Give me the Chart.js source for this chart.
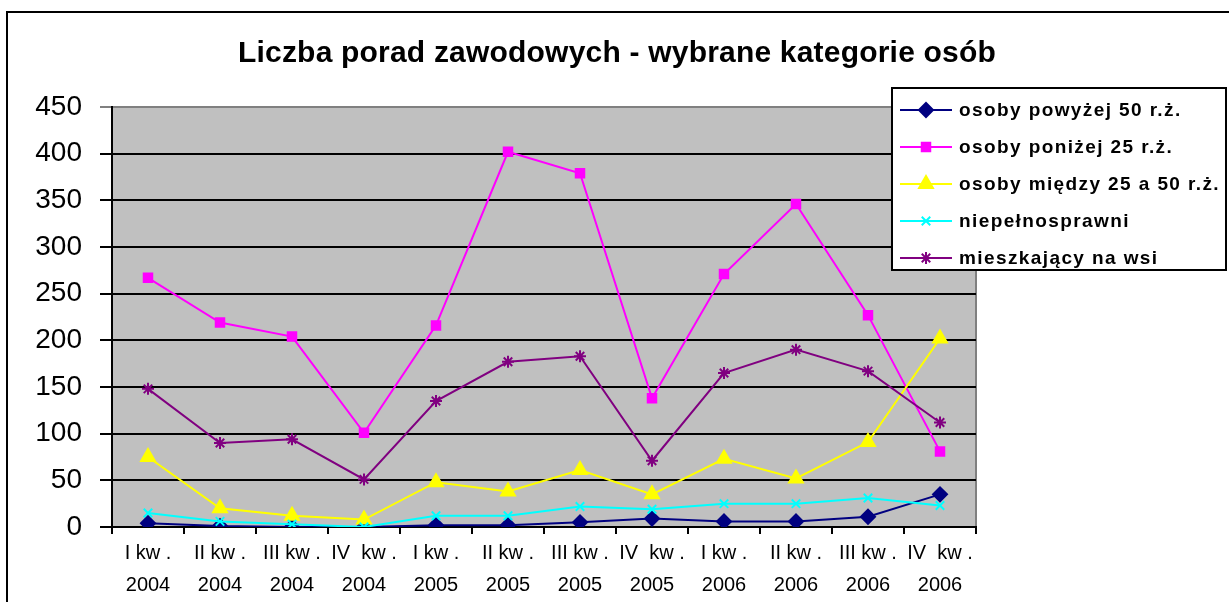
<html lang="pl">
<head>
  <meta charset="utf-8">
  <title>Liczba porad zawodowych</title>
  <style>
    html, body { margin: 0; padding: 0; background: #fff; }
    #wrap { width: 1229px; height: 602px; position: relative; }
  </style>
</head>
<body>
  <div id="wrap">
    <canvas id="myChart"></canvas>
  </div>
  <script src="https://cdn.jsdelivr.net/npm/chart.js"></script>
  <script>
    const title = 'Liczba porad zawodowych - wybrane kategorie osób'
    const quarters = ['I kw .', 'II kw .', 'III kw .', 'IV  kw .', 'I kw .', 'II kw .', 'III kw .', 'IV  kw .', 'I kw .', 'II kw .', 'III kw .', 'IV  kw .']
    const years = ['2004', '2004', '2004', '2004', '2005', '2005', '2005', '2005', '2006', '2006', '2006', '2006']

    const seriesNames = ['osoby powyżej 50 r.ż.', 'osoby poniżej 25 r.ż.', 'osoby między 25 a 50 r.ż.', 'niepełnosprawni', 'mieszkający na wsi']
    const powyzej50 = [4, 1, 0, 0, 2, 2, 5, 9, 6, 6, 11, 35]
    const ponizej25 = [267, 219, 204, 101, 216, 402, 379, 138, 271, 346, 227, 81]
    const miedzy25a50 = [75, 20, 12, 8, 48, 38, 61, 35, 73, 52, 91, 202]
    const niepelnosprawni = [15, 6, 3, 0, 12, 12, 22, 19, 25, 25, 31, 23]
    const naWsi = [148, 90, 94, 51, 135, 177, 183, 71, 165, 190, 167, 112]

    const yTicks = [0, 50, 100, 150, 200, 250, 300, 350, 400, 450]

    const labels = quarters.map((q, i) => [q, years[i]])

    function series(name, data, color, style, radius, order) {
      return {
        label: name,
        data: data,
        borderColor: color,
        backgroundColor: color,
        pointBackgroundColor: color,
        pointBorderColor: color,
        pointStyle: style,
        pointRadius: radius,
        pointBorderWidth: 2,
        borderWidth: 2,
        tension: 0,
        order: order
      }
    }

    // plot background, outer frame and title
    const frame = {
      id: 'frame',
      beforeDraw(chart) {
        const { ctx, chartArea: a } = chart
        ctx.save()
        ctx.fillStyle = '#c0c0c0'
        ctx.fillRect(a.left, a.top, a.right - a.left, a.bottom - a.top)
        ctx.strokeStyle = '#808080'
        ctx.lineWidth = 2
        ctx.beginPath()
        ctx.moveTo(a.left, a.top)
        ctx.lineTo(a.right, a.top)
        ctx.lineTo(a.right, a.bottom)
        ctx.stroke()
        ctx.strokeStyle = '#000'
        ctx.beginPath()
        ctx.moveTo(7, 602)
        ctx.lineTo(7, 12)
        ctx.lineTo(1229, 12)
        ctx.stroke()
        ctx.fillStyle = '#000'
        ctx.font = 'bold 30px "Liberation Sans", Arial, sans-serif'
        ctx.letterSpacing = '0.2px'
        ctx.textAlign = 'center'
        ctx.textBaseline = 'middle'
        ctx.fillText(title, 617, 54)
        ctx.restore()
      }
    }

    // legend box sitting over the plot, like in the original
    const boxLegend = {
      id: 'boxLegend',
      afterDraw(chart) {
        const ctx = chart.ctx
        const x0 = 892, y0 = 88, w = 334, h = 182
        ctx.save()
        ctx.fillStyle = '#fff'
        ctx.fillRect(x0, y0, w, h)
        ctx.strokeStyle = '#000'
        ctx.lineWidth = 2
        ctx.strokeRect(x0, y0, w, h)
        chart.data.datasets.forEach((ds, i) => {
          const y = 110 + i * 37
          ctx.strokeStyle = ds.borderColor
          ctx.fillStyle = ds.borderColor
          ctx.lineWidth = 2
          ctx.beginPath()
          ctx.moveTo(900, y)
          ctx.lineTo(952, y)
          ctx.stroke()
          if (Chart.helpers && Chart.helpers.drawPoint) {
            Chart.helpers.drawPoint(ctx, { pointStyle: ds.pointStyle, radius: ds.pointRadius, rotation: 0, borderWidth: 2 }, 926, y)
          }
          ctx.fillStyle = '#000'
          ctx.font = 'bold 19px "Liberation Sans", Arial, sans-serif'
          ctx.letterSpacing = '1.4px'
          ctx.textAlign = 'left'
          ctx.textBaseline = 'middle'
          ctx.fillText(ds.label, 959, y + 1)
        })
        ctx.restore()
      }
    }

    function renderChart() {
      const ctx = document.getElementById('myChart')
      const myChart = new Chart(ctx, {
        type: 'line',
        data: {
          labels: labels,
          datasets: [
            series(seriesNames[0], powyzej50, '#000080', 'rectRot', 7, 5),
            series(seriesNames[1], ponizej25, '#ff00ff', 'rect', 6, 4),
            series(seriesNames[2], miedzy25a50, '#ffff00', 'triangle', 8, 3),
            series(seriesNames[3], niepelnosprawni, '#00ffff', 'crossRot', 6, 2),
            series(seriesNames[4], naWsi, '#800080', 'star', 6, 1)
          ]
        },
        options: {
          responsive: true,
          maintainAspectRatio: false,
          animation: false,
          layout: { padding: { top: 107, right: 253, left: 0, bottom: 0 } },
          plugins: {
            legend: { display: false },
            title: { display: false },
            tooltip: { enabled: false }
          },
          scales: {
            x: {
              offset: true,
              grid: { offset: true, drawOnChartArea: false, drawTicks: true, tickLength: 7, color: '#000', lineWidth: 2 },
              border: { color: '#000', width: 2 },
              ticks: {
                color: '#000',
                padding: 3,
                maxRotation: 0,
                autoSkip: false,
                font: { family: '"Liberation Sans", Arial, sans-serif', size: 20, lineHeight: 1.6 }
              },
              afterFit(scale) { scale.height = 75 }
            },
            y: {
              min: 0,
              max: 450,
              afterBuildTicks(scale) { scale.ticks = yTicks.map(v => ({ value: v })) },
              grid: {
                color: c => c.tick && c.tick.value === 450 ? '#808080' : '#000',
                lineWidth: 2,
                tickLength: 12
              },
              border: { color: '#000', width: 2 },
              ticks: {
                color: '#000',
                padding: 18,
                font: { family: '"Liberation Sans", Arial, sans-serif', size: 28 }
              },
              afterFit(scale) { scale.width = 112 }
            }
          }
        },
        plugins: [frame, boxLegend]
      })
    }

    window.onload = renderChart
  </script>
</body>
</html>
